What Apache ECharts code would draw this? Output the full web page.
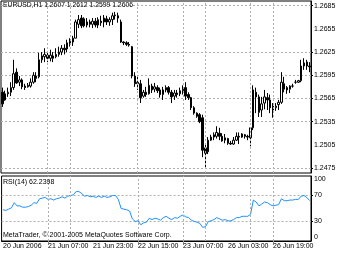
<!DOCTYPE html>
<html><head><meta charset="utf-8">
<script src="https://cdn.jsdelivr.net/npm/echarts@6/dist/echarts.min.js"></script>
<style>html,body{margin:0;padding:0;background:#fff}#c{width:341px;height:256px}</style>
</head><body><div id="c"></div>
<script>
const symbolName = 'EURUSD,H1';
const opens = [
1.2573,1.2563,1.2571,1.2573,1.2579,1.2599,1.2586,1.2589,1.2581,1.2580,
1.2581,1.2586,1.2594,1.2593,1.2615,1.2619,1.2621,1.2617,1.2620,1.2619,
1.2622,1.2625,1.2630,1.2629,1.2635,1.2638,1.2643,1.2661,1.2669,1.2668,
1.2660,1.2664,1.2661,1.2665,1.2660,1.2665,1.2664,1.2668,1.2664,1.2667,
1.2672,1.2672,1.2664,1.2638,1.2637,1.2635,1.2632,1.2594,1.2584,1.2584,
1.2568,1.2573,1.2571,1.2581,1.2577,1.2579,1.2576,1.2570,1.2576,1.2579,
1.2573,1.2568,1.2572,1.2571,1.2575,1.2579,1.2570,1.2566,1.2553,1.2546,
1.2544,1.2540,1.2501,1.2496,1.2511,1.2515,1.2516,1.2520,1.2516,1.2511,
1.2513,1.2507,1.2506,1.2511,1.2516,1.2515,1.2518,1.2516,1.2514,1.2527,
1.2573,1.2567,1.2550,1.2559,1.2566,1.2563,1.2555,1.2553,1.2557,1.2560,
1.2584,1.2579,1.2577,1.2581,1.2586,1.2586,1.2588,1.2607,1.2612,1.2607];
const closes = [
1.2558,1.2571,1.2573,1.2579,1.2597,1.2585,1.2589,1.2580,1.2579,1.2582,
1.2586,1.2595,1.2591,1.2615,1.2620,1.2622,1.2617,1.2621,1.2617,1.2622,
1.2625,1.2630,1.2628,1.2637,1.2639,1.2643,1.2664,1.2667,1.2659,1.2659,
1.2664,1.2661,1.2665,1.2660,1.2667,1.2663,1.2669,1.2664,1.2667,1.2672,
1.2673,1.2669,1.2638,1.2637,1.2635,1.2634,1.2594,1.2584,1.2586,1.2566,
1.2573,1.2570,1.2582,1.2576,1.2580,1.2575,1.2570,1.2576,1.2579,1.2573,
1.2567,1.2572,1.2570,1.2575,1.2577,1.2568,1.2566,1.2553,1.2546,1.2542,
1.2535,1.2498,1.2494,1.2511,1.2515,1.2518,1.2521,1.2516,1.2510,1.2514,
1.2507,1.2506,1.2511,1.2516,1.2515,1.2519,1.2516,1.2515,1.2527,1.2576,
1.2567,1.2547,1.2558,1.2567,1.2563,1.2553,1.2550,1.2555,1.2560,1.2586,
1.2577,1.2576,1.2581,1.2581,1.2586,1.2588,1.2607,1.2611,1.2607,1.2606];
const lows = [
1.2554,1.2562,1.2567,1.2568,1.2576,1.2584,1.2581,1.2577,1.2576,1.2579,
1.2579,1.2584,1.2586,1.2591,1.2611,1.2612,1.2612,1.2613,1.2612,1.2617,
1.2619,1.2621,1.2622,1.2625,1.2632,1.2633,1.2643,1.2656,1.2656,1.2657,
1.2657,1.2657,1.2656,1.2657,1.2656,1.2659,1.2657,1.2660,1.2659,1.2660,
1.2667,1.2663,1.2637,1.2634,1.2633,1.2632,1.2591,1.2580,1.2576,1.2559,
1.2566,1.2567,1.2570,1.2572,1.2573,1.2572,1.2566,1.2563,1.2573,1.2570,
1.2559,1.2563,1.2566,1.2568,1.2570,1.2563,1.2563,1.2550,1.2544,1.2540,
1.2533,1.2489,1.2476,1.2493,1.2510,1.2511,1.2513,1.2511,1.2509,1.2507,
1.2505,1.2505,1.2505,1.2510,1.2506,1.2514,1.2513,1.2511,1.2503,1.2524,
1.2546,1.2541,1.2541,1.2551,1.2550,1.2546,1.2540,1.2549,1.2550,1.2558,
1.2573,1.2571,1.2572,1.2579,1.2584,1.2585,1.2586,1.2602,1.2602,1.2599];
const highs = [
1.2579,1.2575,1.2579,1.2586,1.2615,1.2604,1.2594,1.2591,1.2584,1.2585,
1.2591,1.2599,1.2599,1.2624,1.2625,1.2630,1.2626,1.2628,1.2625,1.2630,
1.2632,1.2634,1.2635,1.2641,1.2643,1.2646,1.2667,1.2673,1.2673,1.2670,
1.2669,1.2667,1.2669,1.2669,1.2670,1.2672,1.2673,1.2672,1.2670,1.2676,
1.2677,1.2676,1.2667,1.2639,1.2639,1.2638,1.2633,1.2599,1.2593,1.2589,
1.2576,1.2580,1.2591,1.2584,1.2585,1.2582,1.2579,1.2580,1.2582,1.2581,
1.2576,1.2576,1.2576,1.2579,1.2582,1.2586,1.2573,1.2567,1.2555,1.2547,
1.2546,1.2544,1.2505,1.2515,1.2518,1.2521,1.2529,1.2527,1.2520,1.2519,
1.2514,1.2510,1.2515,1.2521,1.2521,1.2520,1.2519,1.2518,1.2528,1.2582,
1.2579,1.2570,1.2567,1.2576,1.2572,1.2570,1.2559,1.2559,1.2563,1.2599,
1.2593,1.2581,1.2582,1.2584,1.2589,1.2589,1.2615,1.2617,1.2615,1.2612];
const rsi = [
48,47,49,51,59,54,54,52,52,53,
55,59,58,65,66,67,64,65,63,65,
66,68,66,69,70,71,76,76,73,69,
70,68,69,67,69,67,69,67,68,70,
70,64,50,49,48,46,34,30,31,25,
28,29,35,33,35,34,32,36,38,35,
33,36,35,38,40,37,36,32,30,29,
27,21,22,30,31,33,36,34,32,33,
31,31,33,36,36,38,38,38,41,63,
60,54,57,60,59,56,54,55,56,65,
62,62,63,63,64,64,69,70,67,62.2398];
const priceTicks = [1.2475,1.2505,1.2535,1.2565,1.2595,1.2625,1.2655,1.2685];
const priceGridLines = [1.2475,1.2535,1.2565,1.2595,1.2625,1.2685];
const rsiLabels = [0,30,70,100];
const rsiLevels = [30,70];
const timeLabels = ['20 Jun 2006','21 Jun 07:00','21 Jun 23:00','22 Jun 15:00','23 Jun 07:00','26 Jun 03:00','26 Jun 19:00'];
const labelEvery = 16;
const gridBars = [16,24,48,64,72,88,96];

const FONT = 'Liberation Sans';
const chart = echarts.init(document.getElementById('c'), null, {renderer:'canvas'});
const cats = opens.map((_, i) => String(i));
const candles = opens.map((o, i) => [o, closes[i], lows[i], highs[i]]);
const last = opens.length - 1;
const vGrid = gridBars.map(i => ({xAxis: i}));
const gridLine = {color:'#b0b0b0', type:[2,2], width:1};
const txt = {fontFamily: FONT, fontSize: 7, color:'#000', fontWeight:'normal'};
const labelInt = (i) => i % labelEvery === 0;
const tickInt = (i) => i % labelEvery === 0 && gridBars.includes(i);

chart.setOption({
  animation: false,
  backgroundColor: '#fff',
  textStyle: {fontFamily: FONT},
  title: [
    {text: symbolName + ' ' + [opens[last], highs[last], lows[last], closes[last]].map(v => v.toFixed(4)).join(' '),
     left: 3, top: 2, padding: 0, textStyle: {...txt, fontSize: 6.8}},
    {text: 'RSI(14) ' + rsi[last].toFixed(4), left: 3, top: 179, padding: 0, textStyle: txt},
    {text: 'MetaTrader, \u00a9 2001-2005 MetaQuotes Software Corp.', left: 3, top: 232, padding: 0, textStyle: txt}
  ],
  grid: [
    {left: 1, top: 1, width: 310, height: 172, show: true, borderColor: '#000', borderWidth: 1},
    {left: 1, top: 176, width: 310, height: 65, show: true, borderColor: '#000', borderWidth: 1}
  ],
  xAxis: [
    {type: 'category', gridIndex: 0, data: cats, boundaryGap: true,
     axisLine: {show: false}, axisTick: {show: false}, axisLabel: {show: false}, splitLine: {show: false}},
    {type: 'category', gridIndex: 1, data: cats, boundaryGap: true,
     axisLine: {show: true, lineStyle: {color: '#000'}},
     axisTick: {show: true, alignWithLabel: true, interval: tickInt, length: 4, lineStyle: {color: '#909090'}},
     axisLabel: {show: true, interval: labelInt, align: 'left', margin: 2, ...txt,
       formatter: (v, i) => timeLabels[Math.round(i / labelEvery)] || ''},
     splitLine: {show: false}}
  ],
  yAxis: [
    {type: 'value', gridIndex: 0, position: 'right', min: 1.24685, max: 1.26911, scale: true,
     axisLine: {show: true, lineStyle: {color: '#000'}},
     axisTick: {show: true, length: 2, customValues: priceGridLines, lineStyle: {color: '#000'}},
     axisLabel: {show: true, customValues: priceTicks, margin: 3, ...txt, formatter: v => v.toFixed(4)},
     splitLine: {show: true, lineStyle: gridLine}},
    {type: 'value', gridIndex: 1, position: 'right', min: 0, max: 100,
     axisLine: {show: true, lineStyle: {color: '#000'}},
     axisTick: {show: true, length: 2, customValues: rsiLevels, lineStyle: {color: '#000'}},
     axisLabel: {show: true, customValues: rsiLabels, margin: 3, ...txt,
       verticalAlignMaxLabel: 'top', verticalAlignMinLabel: 'bottom'},
     splitLine: {show: true, lineStyle: gridLine}}
  ],
  series: [
    {type: 'candlestick', xAxisIndex: 0, yAxisIndex: 0, data: candles, barWidth: 2,
     itemStyle: {color: '#fff', color0: '#000', borderColor: '#000', borderColor0: '#000', borderWidth: 1},
     markLine: {silent: true, symbol: ['none','none'], label: {show: false}, lineStyle: gridLine, data: vGrid, animation: false}},
    {type: 'line', xAxisIndex: 1, yAxisIndex: 1, data: rsi, symbol: 'none', lineStyle: {color: '#1E90FF', width: 1},
     markLine: {silent: true, symbol: ['none','none'], label: {show: false}, lineStyle: gridLine, data: vGrid, animation: false}}
  ]
});
</script></body></html>
